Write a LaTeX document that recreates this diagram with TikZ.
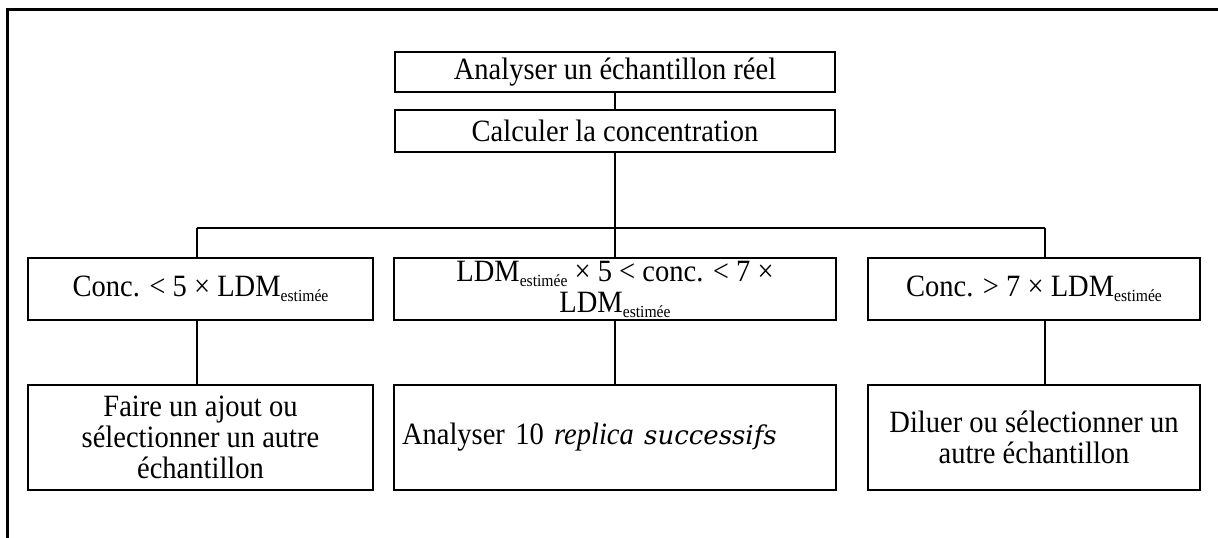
\documentclass[tikz,border=0pt]{standalone}
\usepackage{fontspec}
\setmainfont{Liberation Serif}[FakeStretch=0.92]
\newfontfamily\sucfont{DejaVu Serif}
\newcommand\est{\raisebox{-0.35ex}{\fontsize{17}{17}\selectfont estimée}}
\begin{document}
\begin{tikzpicture}[x=1pt,y=-1pt,
  box/.style={draw,line width=1.6pt,inner sep=0pt,align=center,
    font=\fontsize{31}{31}\selectfont},
  wire/.style={line width=1.6pt}]
\useasboundingbox (0,0) rectangle (1218,538);
\fill[white] (0,0) rectangle (1218,538);
\draw[line width=3pt] (7,538) -- (7,9) -- (1218,9);
\node[box,minimum width=440,minimum height=40] (b1) at (615,72) {Analyser un échantillon réel};
\node[box,minimum width=440,minimum height=42] (b2) at (615,131) {Calculer la concentration};
\node[box,minimum width=345,minimum height=62] (l2) at (200.5,289) {Conc. < 5 × LDM\est};
\node[box,minimum width=442,minimum height=62] (m2) at (615,289) {LDM\est{} × 5 < conc. < 7 ×\\[0pt] LDM\est};
\node[box,minimum width=332,minimum height=62] (r2) at (1034,289) {Conc. > 7 × LDM\est};
\node[box,minimum width=345,minimum height=105] (l3) at (200.5,437.5) {Faire un ajout ou\\ sélectionner un autre\\ échantillon};
\node[box,minimum width=442,minimum height=105,text width=426,align=left] (m3) at (615,437.5) {Analyser 10 \textit{replica} {\sucfont\itshape\fontsize{26}{30}\selectfont successifs}};
\node[box,minimum width=332,minimum height=105] (r3) at (1034,437.5) {Diluer ou sélectionner un\\ autre échantillon};
\coordinate (busL) at (197,228);
\coordinate (busR) at (1045,228);
\draw[wire] (b1.south) -- (b2.north);
\draw[wire] (b2.south) -- (m2.north);
\draw[wire] (busL) -- (busR);
\draw[wire] (busL) -- (busL |- l2.north);
\draw[wire] (busR) -- (busR |- r2.north);
\draw[wire] (l2.south -| busL) -- (l3.north -| busL);
\draw[wire] (m2.south) -- (m3.north);
\draw[wire] (r2.south -| busR) -- (r3.north -| busR);
\end{tikzpicture}
\end{document}
